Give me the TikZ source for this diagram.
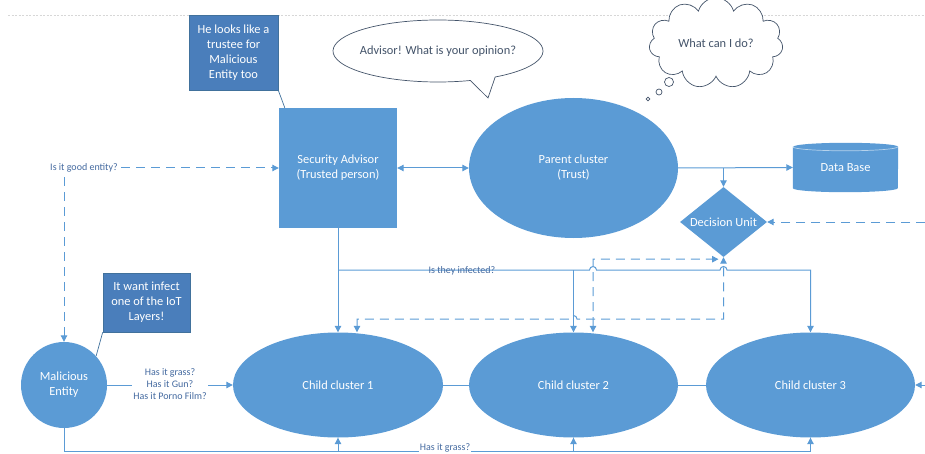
\documentclass[tikz,border=0pt]{standalone}
\usepackage{fontspec}
\setmainfont{Carlito}
\usetikzlibrary{shapes.geometric,shapes.symbols,arrows.meta}
\definecolor{mainblue}{RGB}{91,155,213}
\definecolor{callblue}{RGB}{74,126,187}
\definecolor{callline}{RGB}{65,113,156}
\definecolor{lbl}{RGB}{68,106,160}
\definecolor{bubble}{RGB}{68,84,106}
\definecolor{pagegray}{RGB}{215,215,215}
\begin{document}
\begin{tikzpicture}[x=1pt,y=1pt,
  big/.style={font=\fontsize{12.4}{15}\selectfont},
  blob/.style={big,fill=mainblue,draw=none,text=white,align=center,inner sep=0pt},
  ell/.style={blob,ellipse},
  txtw/.style={big,text=white,align=center,inner sep=0pt},
  callout/.style={big,fill=callblue,draw=callline,line width=0.6pt,text=white,align=center,inner sep=0pt},
  lab/.style={text=lbl,font=\fontsize{10}{12}\selectfont,align=center,inner sep=1pt},
  conn/.style={draw=mainblue,line width=1pt},
  dsh/.style={conn,dash pattern=on 9pt off 6pt},
  arr/.style={-{Triangle[length=6.5pt,width=6.5pt]}},
  bo/.style={{Triangle[length=6.5pt,width=6.5pt]}-{Triangle[length=6.5pt,width=6.5pt]}},
  thinl/.style={draw=callline,line width=0.7pt}]
\useasboundingbox (0,0) rectangle (925,453);

% page edge
\draw[pagegray,dash pattern=on 2pt off 1.5pt,line width=0.5pt] (8,438) -- (925,438);

% callouts and main nodes
\node[callout,minimum width=89pt,minimum height=75pt] (cb1) at (233.5,400.5) {He looks like a\\trustee for\\Malicious\\Entity too};
\node[blob,rectangle,minimum width=118pt,minimum height=120pt] (sa) at (338,285) {Security Advisor\\(Trusted person)};
\node[ell,minimum width=209pt,minimum height=140pt] (pc) at (573.5,285) {Parent cluster\\(Trust)};

% speech bubble
\filldraw[fill=white,draw=bubble,line width=0.7pt] (488,355) -- ([shift={(438,402)}]-57:105 and 31) arc[start angle=-57,end angle=288,x radius=105,y radius=31] -- cycle;
\node[big,text=bubble,inner sep=0pt] (sbt) at (438,402) {Advisor! What is your opinion?};

% thought cloud
\node[cloud,cloud puffs=11,aspect=1.7,draw=bubble,fill=white,line width=0.7pt,minimum width=134pt,minimum height=74pt,big,text=bubble] (tc) at (716,410) {What can I do?};
\draw[bubble,line width=0.7pt] (669,371) circle (4.5) (659,361) circle (3) (648,354) circle (1.8);

% data base cylinder
\node[minimum width=105pt,minimum height=49pt,inner sep=0pt] (db) at (845.5,285.5) {};
\fill[mainblue] ([yshift=-4pt]db.north west) -- ([yshift=4pt]db.south west) arc[start angle=180,end angle=360,x radius=52.5,y radius=4] -- ([yshift=-4pt]db.north east) arc[start angle=0,end angle=180,x radius=52.5,y radius=4] -- cycle;
\draw[white!55!mainblue,line width=0.7pt] ([yshift=-4pt]db.north west) arc[start angle=180,end angle=360,x radius=52.5,y radius=4];
\node[txtw] (dbt) at (db.center) {Data Base};

% decision unit
\node[diamond,fill=mainblue,minimum width=87pt,minimum height=70pt,inner sep=0pt] (du) at (723.5,231) {};
\node[txtw] (dut) at (du.center) {Decision Unit};

% malicious entity and children
\node[blob,circle,minimum size=86pt] (me) at (64,68) {Malicious\\Entity};
\node[callout,minimum width=87pt,minimum height=59pt] (cb2) at (146.5,150.5) {It want infect\\one of the IoT\\Layers!};
\node[ell,minimum width=210pt,minimum height=105pt] (c1) at (338,68) {Child cluster 1};
\node[ell,minimum width=209pt,minimum height=105pt] (c2) at (573.5,68) {Child cluster 2};
\node[ell,minimum width=209pt,minimum height=105pt] (c3) at (810.5,68) {Child cluster 3};

\coordinate (rin) at (925,231);
\coordinate (rin2) at (925,68);

% callout pointers
\draw[thinl] (cb1.south east) -- ([xshift=6pt]sa.north west);
\draw[thinl] (me.42) -- (cb2.south west);

% connectors
\draw[conn,bo] (sa.east) -- (pc.west);
\draw[conn,arr] (pc.east) -- (db.west);
\draw[conn,arr] (pc.east -| du.north) -- (du.north);
\draw[dsh,arr] (rin) -- (du.east);

\draw[dsh,bo] (me.north) -- (me.north |- sa.west) -- (sa.west);
\node[lab,fill=white] (ige) at (84,285) {Is it good entity?};

\draw[conn,arr] (me.east) -- (c1.west);
\node[lab,fill=white] (hig) at (170,69) {Has it grass?\\Has it Gun?\\Has it Porno Film?};
\draw[conn] (c1.east) -- (c2.west);
\draw[conn] (c2.east) -- (c3.west);
\draw[conn,arr] (rin2) -- (c3.east);

% security advisor to children
\draw[conn,arr] (sa.south) -- (c1.north);
\draw[conn,arr] (sa.south |- 0,183) -- (589.5,183) arc[start angle=180,end angle=0,radius=3.5] -- (720,183) arc[start angle=180,end angle=0,radius=3.5] -- (c3.north |- 0,183) -- (c3.north);
\draw[conn,arr] (c2.north |- 0,183) -- (c2.north);
\node[lab,inner sep=0pt] (itf) at (462,182) {Is they infected?};

% dashed feedback loops
\draw[dsh,bo] ([xshift=19.5pt]c2.north) -- (593,194) -- ([xshift=-5pt,yshift=-2pt]du.south);
\draw[dsh,bo] ([xshift=19pt]c1.north) -- (357,134) -- (570,134) arc[start angle=180,end angle=0,radius=3.5] -- (723.5,134) -- (du.south);

% bottom bus
\draw[conn,arr] (me.south) -- (64,1.5) -- (810.5,1.5) -- (c3.south);
\draw[conn,arr] (c1.south |- 0,1.5) -- (c1.south);
\draw[conn,arr] (c2.south |- 0,1.5) -- (c2.south);
\node[lab,fill=white,inner sep=0.5pt,anchor=south] (hg2) at (445,0.3) {Has it grass?};
\end{tikzpicture}
\end{document}
